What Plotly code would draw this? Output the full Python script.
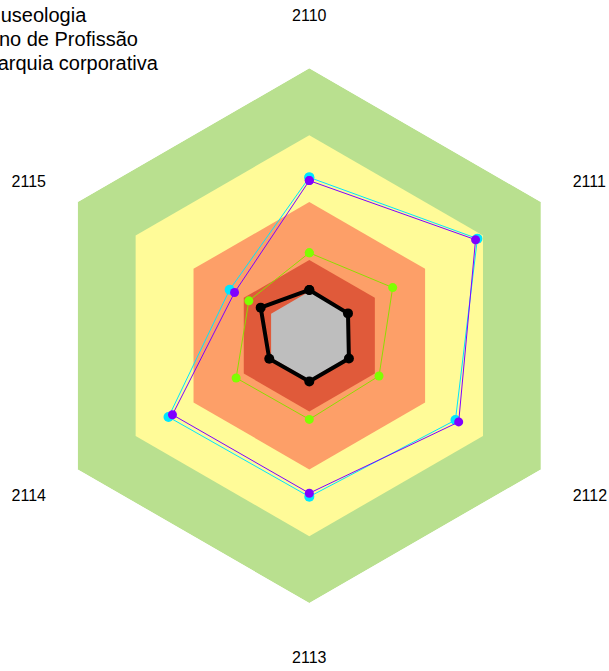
import plotly.graph_objects as go


# ==========================================================
# Data
# ==========================================================

axes_labels = ["2110", "2111", "2112", "2113", "2114", "2115"]

serie_preta = [17.1, 16.7, 17.1, 17.1, 17.3, 21.0]
serie_verde = [31.0, 36.0, 30.1, 31.3, 31.6, 26.1]
serie_ciano = [59.2, 72.6, 63.1, 60.2, 60.8, 34.4]
serie_roxa = [58.0, 71.8, 64.5, 58.9, 59.1, 32.3]

nomes_series = ["Museologia", "Ensino de Profissão", "Hierarquia corporativa"]

# faixas de fundo (limite externo de cada faixa)
faixas_limites = [100, 75, 50, 28.3, 16.5]
faixas_cores = ["#b9e08f", "#fffb98", "#fd9f68", "#e05a3a", "#bebebe"]


def fechar(valores):
    return list(valores) + [valores[0]]


theta = fechar(axes_labels)

# rótulos de cima/baixo no eixo principal, laterais no eixo sobreposto
rotulos_vert = [t if i in (0, 3) else "" for i, t in enumerate(axes_labels)]
rotulos_lat = [t if i not in (0, 3) else "" for i, t in enumerate(axes_labels)]

fig = go.Figure()

# ==========================================================
# Bands (polar)
# ==========================================================

for limite, cor in zip(faixas_limites, faixas_cores):
    fig.add_trace(go.Scatterpolar(
        r=[limite] * len(theta),
        theta=theta,
        mode="lines",
        fill="toself",
        fillcolor=cor,
        line=dict(width=0, color=cor),
        hoverinfo="skip",
        showlegend=False,
        subplot="polar"
    ))

# ==========================================================
# Series (polar2)
# ==========================================================

fig.add_trace(go.Scatterpolar(
    r=fechar(serie_preta),
    theta=theta,
    mode="lines+markers",
    line=dict(color="black", width=4),
    marker=dict(color="black", size=10),
    showlegend=False,
    subplot="polar2"
))

series = [
    (serie_verde, nomes_series[0], "#8fdc00", "#7fff00", 9),
    (serie_ciano, nomes_series[1], "#00e5ff", "#00e5ff", 10),
    (serie_roxa, nomes_series[2], "#8000ff", "#8000ff", 9),
]

for valores, nome, cor_linha, cor_marker, tam in series:
    fig.add_trace(go.Scatterpolar(
        r=fechar(valores),
        theta=theta,
        mode="lines+markers",
        name=nome,
        line=dict(color=cor_linha, width=1),
        marker=dict(color=cor_marker, size=tam),
        showlegend=False,
        subplot="polar2"
    ))

# ==========================================================
# Layout
# ==========================================================

dominio = dict(x=[0.0688, 0.947], y=[0.1012, 0.8982])

radial_comum = dict(
    range=[0, 100],
    showticklabels=False,
    showline=False,
    ticks=""
)

fig.update_layout(
    width=609,
    height=671,
    paper_bgcolor="white",
    plot_bgcolor="white",
    font=dict(family="Arial, Liberation Sans, sans-serif", color="black", size=16),
    margin=dict(l=0, r=0, t=0, b=0),
    showlegend=False,
    polar=dict(
        domain=dominio,
        gridshape="linear",
        bgcolor="white",
        radialaxis=dict(
            **radial_comum,
            tickvals=faixas_limites[1:],
            gridcolor="rgba(235,235,235,0.7)",
            gridwidth=1
        ),
        angularaxis=dict(
            rotation=90,
            direction="clockwise",
            showline=False,
            tickmode="array",
            tickvals=axes_labels,
            ticktext=rotulos_vert,
            ticks="outside",
            ticklen=40,
            tickcolor="rgba(0,0,0,0)",
            gridcolor="rgba(235,235,235,0.7)",
            tickfont=dict(size=16)
        )
    ),
    polar2=dict(
        domain=dominio,
        gridshape="linear",
        bgcolor="rgba(0,0,0,0)",
        radialaxis=dict(
            **radial_comum,
            showgrid=False
        ),
        angularaxis=dict(
            rotation=90,
            direction="clockwise",
            showline=False,
            showgrid=False,
            tickmode="array",
            tickvals=axes_labels,
            ticktext=rotulos_lat,
            ticks="outside",
            ticklen=33,
            tickcolor="rgba(0,0,0,0)",
            tickfont=dict(size=16)
        )
    )
)

# legenda (cortada na borda esquerda, como no original)
legenda_x = [-18.5, -42.0, -41.0]
legenda_y = [15, 39, 63]

for nome, lx, ly in zip(nomes_series, legenda_x, legenda_y):
    fig.add_annotation(
        text=nome,
        xref="paper",
        yref="paper",
        x=lx / 609,
        y=1 - ly / 671,
        xanchor="left",
        yanchor="middle",
        showarrow=False,
        font=dict(size=20, color="black")
    )

# sem a margem padrão do <body>, o gráfico fica alinhado ao canto da janela
fig.write_html(
    "out.html",
    config={"displayModeBar": False},
    post_script="document.body.style.margin = '0';"
)
